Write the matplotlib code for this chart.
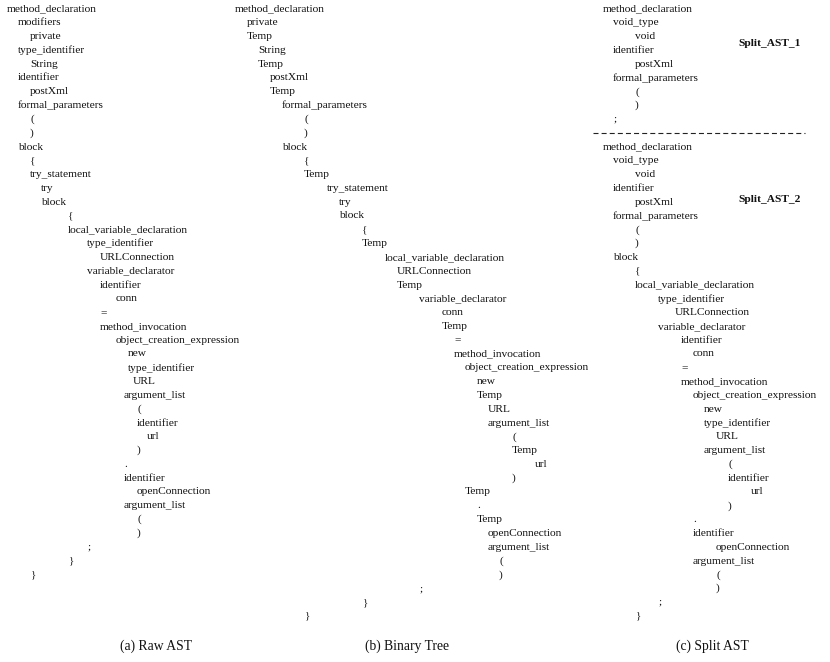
import matplotlib
matplotlib.use("Agg")
import matplotlib.pyplot as plt

plt.rcParams['font.family'] = ['Liberation Serif', 'DejaVu Serif']

# (a) Raw AST: etiquetas y profundidad
raw_labels = ["method_declaration", "modifiers", "private", "type_identifier", "String",
              "identifier", "postXml", "formal_parameters", "(", ")", "block", "{",
              "try_statement", "try", "block", "{", "local_variable_declaration",
              "type_identifier", "URLConnection", "variable_declarator", "identifier",
              "conn", "=", "method_invocation", "object_creation_expression", "new",
              "type_identifier", "URL", "argument_list", "(", "identifier", "url", ")",
              ".", "identifier", "openConnection", "argument_list", "(", ")", ";", "}", "}"]
raw_depth = [0, 1, 2, 1, 2, 1, 2, 1, 2, 2, 1, 2, 2, 3, 3, 4, 4, 5, 6, 5, 6, 7, 6, 6, 7, 9,
             9, 10, 8, 11, 11, 12, 11, 8, 8, 11, 8, 11, 11, 5, 4, 2]

# (b) Binary Tree
bin_labels = ["method_declaration", "private", "Temp", "String", "Temp", "postXml", "Temp",
              "formal_parameters", "(", ")", "block", "{", "Temp", "try_statement", "try",
              "block", "{", "Temp", "local_variable_declaration", "URLConnection", "Temp",
              "variable_declarator", "conn", "Temp", "=", "method_invocation",
              "object_creation_expression", "new", "Temp", "URL", "argument_list", "(",
              "Temp", "url", ")", "Temp", ".", "Temp", "openConnection", "argument_list",
              "(", ")", ";", "}", "}"]
bin_depth = [0, 1, 1, 2, 2, 3, 3, 4, 5, 5, 4, 5, 5, 6, 7, 7, 8, 8, 9, 10, 10, 11, 12, 12,
             13, 13, 14, 15, 15, 16, 16, 18, 18, 19, 18, 14, 15, 15, 16, 16, 17, 17, 11, 8, 5]

# (c) Split AST
split1_labels = ["method_declaration", "void_type", "void", "identifier", "postXml",
                 "formal_parameters", "(", ")", ";"]
split1_depth = [0, 1, 2, 1, 2, 1, 2, 2, 1]
split2_labels = ["method_declaration", "void_type", "void", "identifier", "postXml",
                 "formal_parameters", "(", ")", "block", "{", "local_variable_declaration",
                 "type_identifier", "URLConnection", "variable_declarator", "identifier",
                 "conn", "=", "method_invocation", "object_creation_expression", "new",
                 "type_identifier", "URL", "argument_list", "(", "identifier", "url", ")",
                 ".", "identifier", "openConnection", "argument_list", "(", ")", ";", "}"]
split2_depth = [0, 1, 2, 1, 2, 1, 2, 2, 1, 2, 2, 3, 4, 3, 5, 6, 5, 5, 6, 7, 7, 8, 7, 9, 9,
                10, 9, 6, 6, 8, 6, 8, 8, 3, 2]

captions = ["(a) Raw AST", "(b) Binary Tree", "(c) Split AST"]
split_names = ["Split_AST_1", "Split_AST_2"]

# posiciones de sangría (px) por nivel en cada panel
raw_x = [7, 18, 30, 41, 68, 87, 100, 116, 124, 128, 133, 137, 147]
bin_x = [235, 247, 258, 270, 282, 304, 327, 339, 362, 385, 397, 419, 442, 454, 465, 477,
         488, 499, 512, 535]
split_x = [603, 613, 635, 658, 675, 681, 693, 704, 716, 728, 751]

y0 = 9
dy = 13.8
fs = 8.2
color_txt = '#111111'

fig = plt.figure(figsize=(8.3, 6.62), dpi=100)
ax = fig.add_axes([0, 0, 1, 1])
ax.set_xlim(0, 830)
ax.set_ylim(662, 0)
ax.axis('off')


def dibujar(labels, depth, xs, start=0):
    for i, (lab, d) in enumerate(zip(labels, depth)):
        ax.text(xs[d], y0 + (start + i) * dy, lab, ha='left', va='center',
                fontsize=fs, color=color_txt)


dibujar(raw_labels, raw_depth, raw_x)
dibujar(bin_labels, bin_depth, bin_x)
dibujar(split1_labels, split1_depth, split_x)
dibujar(split2_labels, split2_depth, split_x, start=10)

# separador entre los dos sub-árboles
ax.plot([593, 805], [y0 + 9 * dy, y0 + 9 * dy], color='#222222', lw=0.8,
        linestyle=(0, (4.5, 2.8)))

ax.text(738, 43, split_names[0], ha='left', va='center', fontsize=fs,
        fontweight='bold', color=color_txt)
ax.text(738, 199, split_names[1], ha='left', va='center', fontsize=fs,
        fontweight='bold', color=color_txt)

for cx, cap in zip([156, 407, 712], captions):
    ax.text(cx, 646, cap, ha='center', va='center', fontsize=9.8, color=color_txt)

fig.savefig("out.png", dpi=100)
